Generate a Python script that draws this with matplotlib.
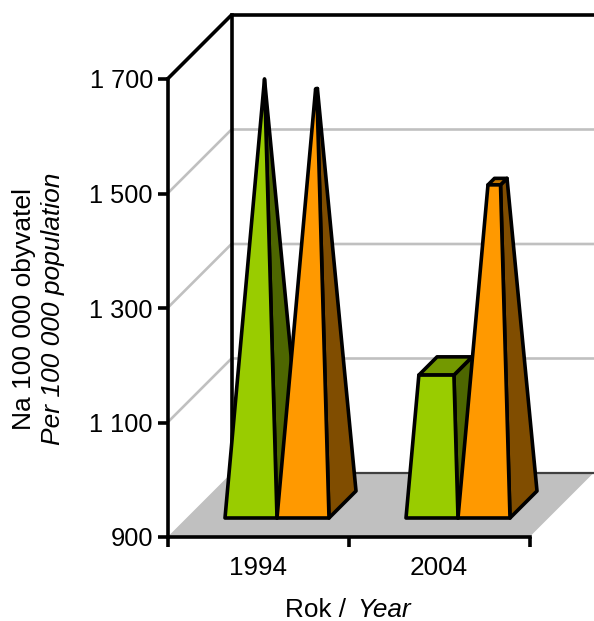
import matplotlib
matplotlib.use("Agg")
import matplotlib.pyplot as plt
from matplotlib.patches import Polygon

plt.rcParams["font.family"] = ["Liberation Sans", "DejaVu Sans"]

years = ["1994", "2004"]
green_values = [1643, 1142]
orange_values = [1626, 1464]
y_ticks = [900, 1100, 1300, 1500, 1700]
tick_labels = ["900", "1 100", "1 300", "1 500", "1 700"]

W, H = 594, 621
LEFT, RIGHT, BOTTOM, TOP = 167.5, 529.5, 537, 79
DEPTH_PX = 64
LW = 2.6

fig = plt.figure(figsize=(W / 100, H / 100), dpi=100)
ax = fig.add_axes([LEFT / W, 1 - BOTTOM / H, (RIGHT - LEFT) / W, (BOTTOM - TOP) / H])
ax.set_xlim(0, 2)
ax.set_ylim(900, 1700)

# size of one pixel in data units
px_x = 2 / (RIGHT - LEFT)
px_y = 800 / (BOTTOM - TOP)


def pt(x, v, depth):
    # depth is in pixels going back along the diagonal
    return (x + depth * px_x, v + depth * px_y)


def poly(points, face, lw=LW, edge="black", z=3, join="round"):
    ax.add_patch(Polygon(points, closed=True, facecolor=face, edgecolor=edge, linewidth=lw,
                         joinstyle=join, clip_on=False, zorder=z))


# floor
poly([pt(0, 900, 0), pt(2, 900, 0), pt(2, 900, DEPTH_PX), pt(0, 900, DEPTH_PX)], "#c0c0c0", lw=0, z=1)
ax.plot([pt(0, 900, DEPTH_PX)[0], pt(2, 900, DEPTH_PX)[0]], [pt(0, 900, DEPTH_PX)[1]] * 2,
        color="#404040", lw=1.6, clip_on=False, zorder=1.5)

# grid on the walls
for v in y_ticks[1:4]:
    x0, y0 = pt(0, v, 0)
    x1, y1 = pt(0, v, DEPTH_PX)
    x2, y2 = pt(2, v, DEPTH_PX)
    ax.plot([x0, x1, x2], [y0, y1, y2], color="#c0c0c0", lw=1.9, clip_on=False, zorder=1)

# wall outline
x0, y0 = pt(0, 1700, 0)
x1, y1 = pt(0, 1700, DEPTH_PX)
x2, y2 = pt(2, 1700, DEPTH_PX)
x3, y3 = pt(0, 900, DEPTH_PX)
ax.plot([x0, x1, x2], [y0, y1, y2], color="black", lw=LW, clip_on=False, zorder=2, solid_joinstyle="miter")
ax.plot([x1, x3], [y1, y3], color="black", lw=LW, clip_on=False, zorder=2)

BAR_W = 52 * px_x
D0, D1 = 19, 46
APEX = max(green_values + orange_values)


def pyramid(cx, value, front, side, top, z):
    f = 1 - (value - 900) / (APEX - 900)
    dm = (D0 + D1) / 2
    hw0, hd0 = BAR_W / 2, (D1 - D0) / 2
    hw1, hd1 = hw0 * f, hd0 * f
    bl = pt(cx - hw0, 900, dm - hd0)
    br = pt(cx + hw0, 900, dm - hd0)
    bb = pt(cx + hw0, 900, dm + hd0)
    tl = pt(cx - hw1, value, dm - hd1)
    tr = pt(cx + hw1, value, dm - hd1)
    tb = pt(cx + hw1, value, dm + hd1)
    tbl = pt(cx - hw1, value, dm + hd1)
    poly([br, bb, tb, tr], side, z=z)
    if f > 0.01:
        poly([tl, tr, tb, tbl], top, z=z)
    poly([bl, br, tr, tl], front, z=z)


for i in range(len(years)):
    # one category is one x unit, the two bars meet at its centre
    pyramid(i + 0.5 - BAR_W / 2, green_values[i], "#99cc00", "#4d6600", "#739900", 3 + i * 2)
    pyramid(i + 0.5 + BAR_W / 2, orange_values[i], "#ff9900", "#804d00", "#bf7300", 4 + i * 2)

# axes
for s in ["top", "right"]:
    ax.spines[s].set_visible(False)
for s in ["left", "bottom"]:
    ax.spines[s].set_linewidth(LW)
    ax.spines[s].set_zorder(2.5)
ax.patch.set_visible(False)
ax.set_yticks(y_ticks)
ax.set_yticklabels(tick_labels, fontsize=18.3)
ax.tick_params(axis="y", length=7, width=LW, pad=3.5)
ax.set_xticks([0, 1, 2])
ax.set_xticklabels([])
ax.tick_params(axis="x", which="major", length=7, width=LW)
ax.set_xticks([0.5, 1.5], minor=True)
ax.set_xticklabels(years, minor=True, fontsize=18.8)
ax.tick_params(axis="x", which="minor", length=0, pad=14)

# axis titles
fig.text(24 / W, 1 - 309 / H, "Na 100 000 obyvatel", rotation=90, fontsize=19, ha="center", va="center")
fig.text(53 / W, 1 - 309 / H, "Per 100 000 population", rotation=90, fontsize=19, style="italic",
         ha="center", va="center")
fig.text(346 / W, 1 - 617 / H, "Rok /", fontsize=18.8, ha="right", va="baseline")
fig.text(357 / W, 1 - 617 / H, "Year", fontsize=18.8, style="italic", ha="left", va="baseline")

fig.savefig("out.png", dpi=100)
